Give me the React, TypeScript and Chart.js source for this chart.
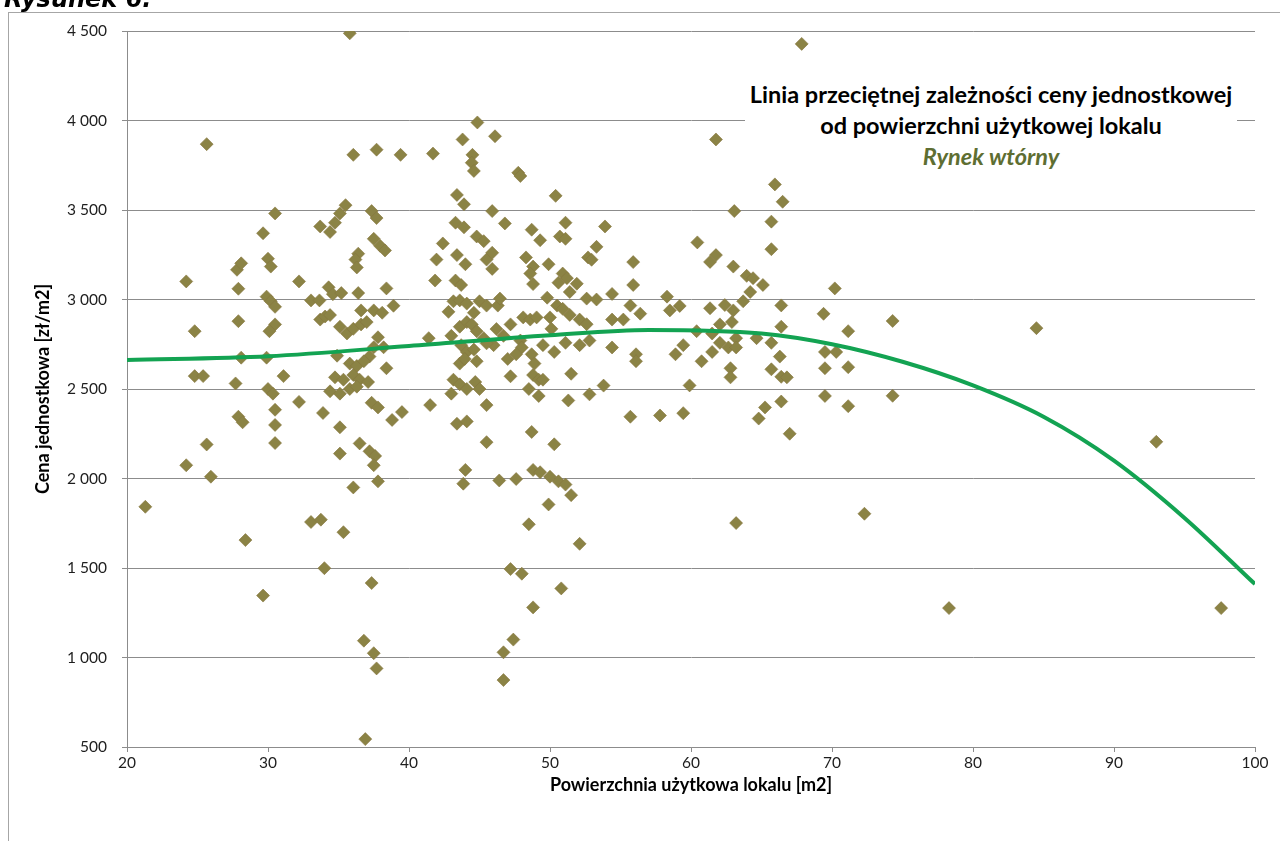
import React, { useEffect, useRef } from "react";
import { Chart, registerables } from "chart.js";

Chart.register(...registerables);

// Powierzchnia użytkowa lokalu [m2]
const areaX = [
  21.3, 25.65, 24.2, 24.8, 24.8, 25.4, 24.2, 25.65, 25.95, 27.8, 28.1, 27.9, 27.9, 28.1, 27.7, 27.9, 28.2, 28.4, 29.65,
  30.5, 29.65, 30.0, 30.2, 29.9, 30.2, 30.5, 30.5, 30.1, 29.9, 31.1, 30.0, 30.35, 30.5, 30.5, 30.5, 32.2, 32.2, 33.05,
  33.65, 33.7, 33.7, 33.9, 33.05, 33.75, 34.0,
  35.8, 36.05, 37.7, 39.4, 41.7, 44.85, 43.8, 44.5, 44.45, 44.6, 43.4, 43.9, 35.5, 35.1, 34.75, 34.4, 37.35, 37.7,
  37.5, 37.95, 38.3, 36.4, 36.2, 36.3, 43.3, 43.9, 44.8, 45.3, 42.4, 41.95, 41.85, 43.4, 44.0, 43.3, 43.7, 45.5, 38.4,
  34.3, 34.6, 35.2, 36.4, 36.6, 37.5, 38.1, 38.9, 34.05, 34.4, 35.1, 35.6, 36.05, 36.6, 37.0, 37.8, 37.5, 38.2, 37.2,
  38.4, 34.9, 35.8, 36.3, 36.8, 34.75, 35.35, 36.05, 36.5, 37.1, 34.4, 35.1, 35.8, 36.3, 37.35, 37.8, 38.8, 39.5, 35.1,
  36.5, 37.2, 37.6, 37.5, 35.1, 37.8, 36.05, 35.35, 37.35, 36.8, 37.5, 37.7, 36.9, 41.4, 41.5, 42.8, 43.15, 43.6, 44.1,
  44.6, 45.0, 43.6, 44.1, 44.45, 44.8, 45.3, 43.0, 43.7, 44.1, 44.6, 43.6, 43.95, 44.8, 43.15, 43.6, 44.1, 44.7, 45.0,
  43.0, 43.4, 44.1, 44.0, 43.85, 45.5, 45.5,
  46.1, 47.75, 47.9, 50.4, 45.9, 46.8, 48.7, 49.3, 51.1, 50.7, 51.1, 53.9, 45.9, 45.9, 48.3, 48.8, 48.6, 48.8, 49.9,
  53.3, 52.7, 52.95, 55.9, 50.9, 50.6, 51.2, 51.9, 51.4, 55.9, 49.8, 50.5, 50.9, 51.4, 52.1, 52.6, 52.6, 53.3, 54.4,
  54.4, 55.2, 55.7, 56.4, 45.5, 46.3, 46.45, 48.1, 48.6, 49.05, 50.0, 46.2, 47.2, 46.7, 46.0, 45.5, 47.9, 48.0, 47.6,
  47.0, 48.7, 48.9, 48.8, 49.2, 49.5, 49.5, 50.3, 51.1, 52.1, 52.8, 50.1, 54.4, 56.1, 56.1, 47.2, 48.5, 49.2, 51.5,
  51.3, 52.8, 53.8, 55.7, 48.7, 50.3, 46.4, 47.6, 48.8, 49.3, 50.0, 50.6, 51.1, 51.5, 49.9, 48.5, 52.1, 47.2, 48.0,
  50.8, 48.8, 47.4, 46.7, 46.7,
  67.85, 61.77, 65.95, 66.5, 63.07, 65.7, 65.7, 60.45, 61.35, 61.77, 63.0, 63.95, 64.4, 65.1, 64.2, 63.7, 58.3, 58.5,
  59.2, 61.35, 62.4, 63.0, 66.4, 70.2, 69.4, 71.15, 60.4, 61.5, 62.05, 62.9, 63.2, 64.65, 66.4, 59.45, 58.9, 61.5,
  62.05, 62.65, 63.2, 65.7, 66.3, 69.5, 70.3, 60.75, 62.8, 62.8, 65.7, 66.4, 66.8, 69.5, 71.15, 59.9, 57.8, 59.45,
  64.8, 65.25, 66.4, 69.5, 71.15, 67.0, 63.2, 72.3,
  74.3, 74.3, 78.3, 84.5, 93.0, 97.6,
];

// Cena jednostkowa [zł/m2]
const priceY = [
  1842, 3868, 3101, 2823, 2572, 2572, 2074, 2190, 2010, 3166, 3202, 3060, 2879, 2675, 2531, 2345, 2314, 1656, 1346,
  3481, 3370, 3228, 3184, 3016, 2990, 2959, 2861, 2823, 2675, 2572, 2500, 2474, 2384, 2299, 2198, 2428, 3101, 2995,
  2995, 3408, 2888, 2366, 1757, 1770, 1499,
  4487, 3808, 3837, 3808, 3815, 3989, 3894, 3808, 3764, 3718, 3584, 3532, 3527, 3481, 3429, 3377, 3494, 3455,
  3339, 3300, 3274, 3256, 3223, 3179, 3429, 3403, 3352, 3326, 3313, 3223, 3106, 3248, 3197, 3106, 3081, 3223, 3062,
  3068, 3030, 3036, 3036, 2939, 2939, 2926, 2965, 2905, 2913, 2848, 2810, 2836, 2861, 2874, 2789, 2733, 2733, 2681,
  2616, 2686, 2642, 2629, 2655, 2565, 2552, 2578, 2552, 2539, 2487, 2474, 2500, 2513, 2423, 2397, 2327, 2371, 2286,
  2196, 2152, 2126, 2074, 2139, 1984, 1950, 1700, 1416, 1094, 1024, 939, 544, 2784, 2410, 2931, 2990, 2995, 2977,
  2926, 2990, 2848, 2874, 2861, 2823, 2784, 2797, 2745, 2707, 2720, 2642, 2668, 2655, 2552, 2526, 2500, 2539, 2500,
  2474, 2306, 2319, 2048, 1971, 2410, 2203,
  3912, 3708, 3690, 3579, 3494, 3425, 3390, 3331, 3429, 3352, 3339, 3408, 3261, 3171, 3235, 3184, 3145, 3086, 3197,
  3294, 3235, 3222, 3209, 3145, 3094, 3119, 3088, 3042, 3081, 3010, 2966, 2948, 2914, 2888, 2862, 3005, 3000, 3031,
  2888, 2888, 2966, 2921, 2966, 2966, 3005, 2900, 2888, 2900, 2900, 2835, 2861, 2797, 2745, 2755, 2771, 2732, 2694,
  2668, 2694, 2642, 2578, 2552, 2552, 2745, 2707, 2758, 2745, 2771, 2836, 2732, 2694, 2655, 2571, 2500, 2461, 2585,
  2436, 2470, 2519, 2345, 2260, 2191, 1989, 1997, 2048, 2035, 2010, 1984, 1966, 1907, 1855, 1744, 1635, 1494, 1468,
  1386, 1280, 1100, 1029, 874,
  4428, 3894, 3643, 3546, 3494, 3435, 3281, 3319, 3210, 3248, 3184, 3132, 3119, 3081, 3042, 2990, 3016, 2939,
  2964, 2951, 2969, 2939, 2967, 3062, 2920, 2823, 2823, 2810, 2861, 2874, 2784, 2784, 2848, 2745, 2694, 2707,
  2758, 2732, 2732, 2758, 2681, 2707, 2707, 2655, 2616, 2565, 2610, 2568, 2565, 2616, 2622, 2520, 2352, 2365,
  2335, 2397, 2430, 2461, 2404, 2250, 1751, 1803,
  2880, 2462, 1276, 2840, 2205, 1276,
];

// Linia przeciętnej zależności
const trendX = [20, 30, 40, 50, 57, 65, 70, 75, 80, 85, 90, 95, 100];
const trendY = [2662, 2683, 2740, 2800, 2830, 2810, 2750, 2652, 2520, 2345, 2100, 1780, 1410];

const xTicks = [20, 30, 40, 50, 60, 70, 80, 90, 100];
const xTickLabels = ["20", "30", "40", "50", "60", "70", "80", "90", "100"];
const yTicks = [500, 1000, 1500, 2000, 2500, 3000, 3500, 4000, 4500];
const yTickLabels = ["500", "1 000", "1 500", "2 000", "2 500", "3 000", "3 500", "4 000", "4 500"];

const xTitle = "Powierzchnia użytkowa lokalu [m2]";
const yTitle = "Cena jednostkowa [zł/m2]";
const noteLines = ["Linia przeciętnej zależności ceny jednostkowej", "od powierzchni użytkowej lokalu"];
const noteSub = "Rynek wtórny";
const figureLabel = "Rysunek 6.";

const FONT = 'Lato, "Open Sans", "DejaVu Sans", sans-serif';

export default function App() {
  const ref = useRef<HTMLCanvasElement | null>(null);

  useEffect(() => {
    if (!ref.current) return;
    const chart = new Chart(ref.current, {
      type: "scatter",
      data: {
        datasets: [
          {
            label: "trend",
            data: trendX.map((x, i) => ({ x, y: trendY[i] })),
            showLine: true,
            borderColor: "#13a352",
            borderWidth: 4,
            pointRadius: 0,
            cubicInterpolationMode: "monotone",
            fill: false,
            order: 0,
          } as any,
          {
            label: "ceny",
            data: areaX.map((x, i) => ({ x, y: priceY[i] })),
            pointStyle: "rectRot",
            pointRadius: 6.5,
            backgroundColor: "#8b8345",
            borderColor: "#86763f",
            borderWidth: 0.6,
            order: 1,
          } as any,
        ],
      },
      options: {
        responsive: false,
        animation: false,
        layout: { padding: { left: 0, top: 31, right: 25, bottom: 0 } },
        plugins: {
          legend: { display: false },
          tooltip: { enabled: false },
        },
        scales: {
          x: {
            type: "linear",
            min: 20,
            max: 100,
            afterBuildTicks: (s: any) => {
              s.ticks = xTicks.map((v) => ({ value: v }));
            },
            afterFit: (s: any) => {
              s.height = 94;
            },
            grid: { drawOnChartArea: false, drawTicks: true, tickLength: 5, color: "#8c8c8c" },
            border: { color: "#8c8c8c", width: 1 },
            ticks: {
              padding: 2,
              color: "#1e1e1e",
              font: { family: FONT, size: 15.5 },
              maxRotation: 0,
              autoSkip: false,
              callback: (v: any) => xTickLabels[xTicks.indexOf(Number(v))] ?? "",
            },
            title: {
              display: true,
              text: xTitle,
              color: "#000",
              font: { family: FONT, size: 18, weight: "bold" },
              padding: { top: 0, bottom: 45 },
            },
          },
          y: {
            type: "linear",
            min: 500,
            max: 4500,
            afterBuildTicks: (s: any) => {
              s.ticks = yTicks.map((v) => ({ value: v }));
            },
            afterFit: (s: any) => {
              s.width = 127;
            },
            grid: { drawOnChartArea: true, drawTicks: true, tickLength: 5, color: "#8c8c8c" },
            border: { color: "#8c8c8c", width: 1 },
            ticks: {
              padding: 15,
              color: "#1e1e1e",
              font: { family: FONT, size: 15.5 },
              autoSkip: false,
              callback: (v: any) => yTickLabels[yTicks.indexOf(Number(v))] ?? "",
            },
            title: {
              display: true,
              text: yTitle,
              color: "#000",
              font: { family: FONT, size: 18, weight: "bold" },
              padding: { top: 32, bottom: 0 },
            },
          },
        },
      } as any,
    });
    return () => chart.destroy();
  }, []);

  return (
    <div
      style={{
        position: "fixed",
        left: 0,
        top: 0,
        width: 1280,
        height: 841,
        overflow: "hidden",
        background: "#fff",
      }}
    >
      <div
        style={{
          position: "absolute",
          left: 8,
          top: 12,
          width: 1400,
          height: 1000,
          border: "1px solid #a6a6a6",
          boxSizing: "border-box",
        }}
      />
      <canvas
        ref={ref}
        width={1280}
        height={841}
        style={{ position: "absolute", left: 0, top: 0, width: 1280, height: 841, display: "block" }}
      />
      <div
        style={{
          position: "absolute",
          left: 4,
          top: -13,
          fontFamily: '"DejaVu Sans", Verdana, sans-serif',
          fontWeight: "bold",
          fontStyle: "italic",
          fontSize: 24,
          lineHeight: "24px",
          color: "#000",
          whiteSpace: "nowrap",
        }}
      >
        {figureLabel}
      </div>
      <div
        style={{
          position: "absolute",
          left: 745,
          top: 79,
          width: 492,
          background: "#fff",
          textAlign: "center",
          fontFamily: FONT,
          fontWeight: "bold",
          fontSize: 23.5,
          lineHeight: "31px",
          color: "#000",
          whiteSpace: "nowrap",
        }}
      >
        {noteLines.map((t) => (
          <div key={t}>{t}</div>
        ))}
        <div style={{ fontStyle: "italic", color: "#5e6e32" }}>{noteSub}</div>
      </div>
    </div>
  );
}
